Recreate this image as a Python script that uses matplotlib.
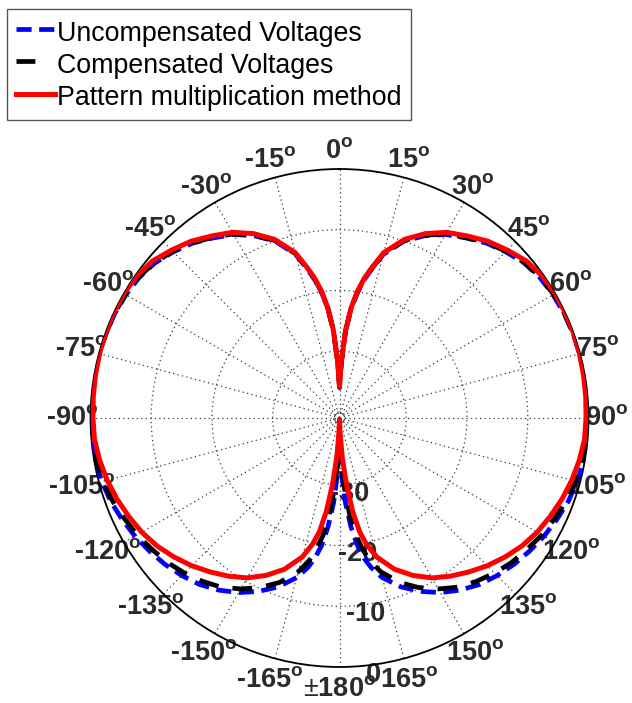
import numpy as np
import matplotlib
matplotlib.use("Agg")
import matplotlib.pyplot as plt
from matplotlib.lines import Line2D

# ---------------- data (dB, one side; pattern is mirrored) ----------------
ANGLES_DEG = [0, 2, 4, 6, 8, 10, 12, 15, 20, 25, 30, 35, 40, 45, 50, 55, 60, 65,
              70, 75, 80, 85, 90, 95, 100, 105, 110, 115, 120, 125, 130, 135,
              140, 145, 150, 155, 160, 165, 168, 170, 172, 174, 176, 178, 180]

PATTERN_MULT_DB = [-35.8, -31.5, -26.5, -22.8, -20.0, -17.7, -15.8, -12.8, -9.7,
                   -7.5, -5.7, -4.4, -3.0, -1.9, -0.8, -0.25, 0.0, 0.0, 0.0, -0.1,
                   -0.2, -0.3, -0.4, -0.5, -0.9, -1.4, -2.0, -2.7, -3.4, -4.3,
                   -5.4, -6.6, -7.9, -9.2, -10.6, -12.4, -14.5, -17.3, -19.8,
                   -22.0, -25.5, -30.0, -34.5, -38.5, -40.5]

UNCOMP_DB = [-35.5, -31.5, -26.5, -23.0, -20.3, -18.0, -16.1, -13.1, -10.0,
             -7.9, -6.1, -4.8, -3.4, -2.3, -1.3, -0.7, -0.4, -0.2, -0.1, -0.05,
             0.0, 0.0, 0.0, -0.1, -0.2, -0.5, -0.9, -1.5, -2.1, -2.8, -3.5,
             -4.3, -5.2, -6.4, -7.8, -9.5, -11.4, -13.8, -15.8, -17.5, -19.8,
             -23.0, -27.0, -32.0, -39.0]

COMP_DB = [-36.0, -31.6, -26.6, -23.0, -20.2, -17.9, -16.0, -13.0, -9.9,
           -7.8, -6.0, -4.7, -3.3, -2.2, -1.2, -0.6, -0.3, -0.15, -0.1, -0.05,
           -0.05, -0.05, 0.0, -0.15, -0.35, -0.7, -1.2, -1.9, -2.5, -3.3, -4.0,
           -4.9, -5.9, -7.0, -8.5, -10.2, -12.2, -14.8, -17.0, -19.0, -21.5,
           -25.0, -29.5, -34.0, -39.5]

SERIES_LABELS = ["Uncompensated Voltages", "Compensated Voltages",
                 "Pattern multiplication method"]

ANGLE_TICKS = [0, 15, 30, 45, 60, 75, 90, 105, 120, 135, 150, 165, 180,
               -165, -150, -135, -120, -105, -90, -75, -60, -45, -30, -15]
ANGLE_LABELS = ["0", "15", "30", "45", "60", "75", "90", "105", "120", "135",
                "150", "165", "±180", "-165", "-150", "-135", "-120", "-105",
                "-90", "-75", "-60", "-45", "-30", "-15"]

RADIAL_TICKS = [-30, -20, -10, 0]
RADIAL_LABELS = ["-30", "-20", "-10", "0"]
R_MIN, R_MAX = -41, 0

# ---------------- style ----------------
plt.rcParams['mathtext.fontset'] = 'custom'
plt.rcParams['mathtext.rm'] = 'Liberation Sans'
plt.rcParams['mathtext.bf'] = 'Liberation Sans:bold'
plt.rcParams['mathtext.it'] = 'Liberation Sans:italic'
plt.rcParams['font.family'] = ['Liberation Sans', 'DejaVu Sans']

LABEL_COLOR = '#2b2b2b'
DEG = r"$^{\mathbf{o}}$"
BLUE_DASH = (3.2, 1.6)
BLACK_DASH = (4.2, 3.0)


def mirror(angles, vals):
    a = np.asarray(angles, float)
    v = np.asarray(vals, float)
    full_a = np.concatenate([-a[::-1], a[1:]])
    full_v = np.concatenate([v[::-1], v[1:]])
    return np.deg2rad(full_a), full_v


fig = plt.figure(figsize=(6.32, 7.03), dpi=100)
W, H = 632, 703
cx, cy, R = 339.5, 418.0, 249.0
ax = fig.add_axes([(cx - R) / W, (H - cy - R) / H, 2 * R / W, 2 * R / H],
                  projection='polar')
ax.set_theta_zero_location('N')
ax.set_theta_direction(-1)
ax.set_rlim(R_MIN, R_MAX)

# grid
ax.set_xticks(np.deg2rad(np.arange(0, 360, 15)))
ax.set_xticklabels([])
ax.set_yticks([-40, -30, -20, -10])
ax.set_yticklabels([])
ax.grid(True, color='#3a3a3a', linestyle=(0, (1, 2.6)), linewidth=0.9)
ax.set_axisbelow(True)
ax.tick_params(axis='x', direction='in', length=5, width=1.0, color='k')
ax.tick_params(axis='y', length=0)
ax.spines['polar'].set_linewidth(1.3)
ax.spines['polar'].set_color('k')
ax.spines['polar'].set_zorder(1.5)

# curves
t, v = mirror(ANGLES_DEG, UNCOMP_DB)
ax.plot(t, v, color='#0000ff', lw=3.4, dashes=BLUE_DASH, zorder=4,
        dash_capstyle='butt')
t, v = mirror(ANGLES_DEG, COMP_DB)
ax.plot(t, v, color='k', lw=3.4, dashes=BLACK_DASH, zorder=5,
        dash_capstyle='butt')
t, v = mirror(ANGLES_DEG, PATTERN_MULT_DB)
ax.plot(t, v, color='#ff0000', lw=3.6, zorder=6)

# angle labels
for a, lab in zip(ANGLE_TICKS, ANGLE_LABELS):
    s = lab.replace('±', r'$\pm$') + DEG
    rr = 3.0 if abs(a) < 150 else 3.6
    ax.text(np.deg2rad(a), rr, s, ha='center', va='center', fontsize=19.5,
            fontweight='bold', color=LABEL_COLOR, clip_on=False, zorder=1)

# radial labels
for rt, lab in zip(RADIAL_TICKS, RADIAL_LABELS):
    ax.text(np.deg2rad(172.5), rt + 1.6, lab, ha='center', va='center',
            fontsize=19.5, fontweight='bold', color=LABEL_COLOR,
            clip_on=False, zorder=1)

# legend (line samples as in the original)
h_blue = Line2D([], [], color='#0000ff', lw=3.4, dashes=BLUE_DASH,
                dash_capstyle='butt')
h_black = Line2D([], [], color='k', lw=3.4, dashes=(4.0, 12.0),
                 dash_capstyle='butt')
h_red = Line2D([], [], color='#ff0000', lw=3.6)
leg = fig.legend(handles=[h_blue, h_black, h_red], labels=SERIES_LABELS,
                 loc='upper left', bbox_to_anchor=(7 / W, 1 - 9 / H),
                 bbox_transform=fig.transFigure, frameon=True, fancybox=False,
                 edgecolor='#555555', framealpha=1, fontsize=19.3,
                 handlelength=1.45, handleheight=1.24, handletextpad=0.1,
                 borderpad=0.33, labelspacing=0.11, borderaxespad=0)
leg.get_frame().set_linewidth(1.0)

fig.savefig('out.png', dpi=100)
